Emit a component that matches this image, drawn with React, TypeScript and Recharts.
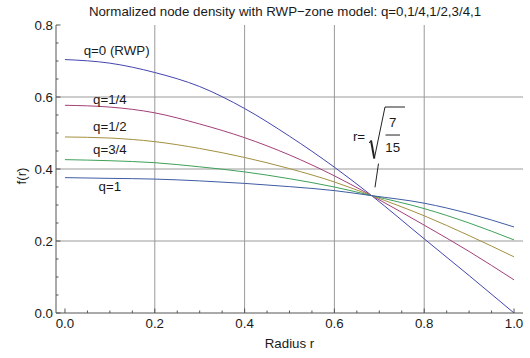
import React from 'react';
import { LineChart, Line, XAxis, YAxis, ReferenceLine, ReferenceDot } from 'recharts';

// radius samples (0.683 ~ sqrt(7/15), the common crossing)
const radius = [0, 0.1, 0.2, 0.3, 0.4, 0.5, 0.6, 0.683, 0.8, 0.9, 1.0];
const fQ0 = [0.704, 0.694, 0.668, 0.629, 0.568, 0.491, 0.405, 0.326, 0.206, 0.104, 0.0];
const fQ14 = [0.577, 0.572, 0.556, 0.525, 0.487, 0.439, 0.381, 0.326, 0.244, 0.171, 0.092];
const fQ12 = [0.489, 0.486, 0.476, 0.457, 0.432, 0.401, 0.364, 0.326, 0.27, 0.215, 0.156];
const fQ34 = [0.426, 0.423, 0.4175, 0.406, 0.392, 0.373, 0.35, 0.326, 0.29, 0.25, 0.203];
const fQ1 = [0.376, 0.374, 0.372, 0.367, 0.36, 0.351, 0.34, 0.326, 0.305, 0.276, 0.239];

const seriesKeys = ['q0', 'q14', 'q12', 'q34', 'q1'];
const seriesLabels = ['q=0 (RWP)', 'q=1/4', 'q=1/2', 'q=3/4', 'q=1'];
const seriesColors = ['#4545b0', '#a33f79', '#a39040', '#3fa05a', '#3f5ca3'];
// label anchor positions (data coords)
const labelX = [0.115, 0.1, 0.1, 0.1, 0.1];
const labelY = [0.731, 0.5925, 0.52, 0.4536, 0.3517];

const xTicks = [0, 0.05, 0.1, 0.15, 0.2, 0.25, 0.3, 0.35, 0.4, 0.45, 0.5, 0.55, 0.6, 0.65, 0.7, 0.75, 0.8, 0.85, 0.9, 0.95, 1.0];
const yTicks = [0, 0.05, 0.1, 0.15, 0.2, 0.25, 0.3, 0.35, 0.4, 0.45, 0.5, 0.55, 0.6, 0.65, 0.7, 0.75, 0.8];
const xGrid = [0.2, 0.4, 0.6, 0.8];
const yGrid = [0.2, 0.4, 0.6];

const title = 'Normalized node density with RWP\u2212zone model: q=0,1/4,1/2,3/4,1';
const xLabel = 'Radius r';
const yLabel = 'f(r)';

const data = radius.map((r, i) => ({
  r,
  q0: fQ0[i],
  q14: fQ14[i],
  q12: fQ12[i],
  q34: fQ34[i],
  q1: fQ1[i],
}));

const W = 530;
const H = 358;
const TOP = 25;
const BOTTOM = 313;
const LEFT = 56;
const RIGHT = 523;
const FONT = '"Liberation Sans", Arial, Helvetica, sans-serif';
const FS = 13.3;
const FRAME = '#555';
const GRID = '#9a9a9a';
const TXT = '#1a1a1a';

const isMajor = (v: number) => Math.abs(v * 5 - Math.round(v * 5)) < 1e-6;

const BottomTick = (p: any) => {
  const v = p.payload.value;
  const m = isMajor(v);
  return (
    <g>
      <line x1={p.x} x2={p.x} y1={BOTTOM} y2={BOTTOM - (m ? 4.5 : 2.5)} stroke={FRAME} />
      {m && (
        <text x={p.x} y={328} textAnchor="middle" fontFamily={FONT} fontSize={FS} fill={TXT}>
          {v.toFixed(1)}
        </text>
      )}
    </g>
  );
};
const TopTick = (p: any) => {
  const v = p.payload.value;
  const m = isMajor(v);
  return <line x1={p.x} x2={p.x} y1={TOP} y2={TOP + (m ? 4.5 : 2.5)} stroke={FRAME} />;
};
const LeftTick = (p: any) => {
  const v = p.payload.value;
  const m = isMajor(v);
  return (
    <g>
      <line x1={LEFT} x2={LEFT + (m ? 4.5 : 2.5)} y1={p.y} y2={p.y} stroke={FRAME} />
      {m && (
        <text x={53} y={p.y + 4.7} textAnchor="end" fontFamily={FONT} fontSize={FS} fill={TXT}>
          {v.toFixed(1)}
        </text>
      )}
    </g>
  );
};
const RightTick = (p: any) => {
  const v = p.payload.value;
  const m = isMajor(v);
  return <line x1={RIGHT} x2={RIGHT - (m ? 4.5 : 2.5)} y1={p.y} y2={p.y} stroke={FRAME} />;
};

const textShape = (txt: string, anchor: string = 'middle') => (p: any) => (
  <text x={p.cx} y={p.cy + 4.7} textAnchor={anchor} fontFamily={FONT} fontSize={FS} fill={TXT}>
    {txt}
  </text>
);

export default function App() {
  return (
    <div style={{ position: 'absolute', left: 0, top: 0, width: W, height: H, background: '#fff' }}>
      <LineChart
        width={W}
        height={H}
        data={data}
        margin={{ top: TOP, right: W - RIGHT, bottom: 0, left: 0 }}
      >
        <XAxis
          xAxisId="b"
          dataKey="r"
          type="number"
          domain={[-0.02, 1.02]}
          ticks={xTicks}
          interval={0}
          height={H - BOTTOM}
          axisLine={{ stroke: FRAME }}
          tickLine={false}
          tick={BottomTick}
          label={{
            content: () => (
              <g>
                <text x={(LEFT + RIGHT) / 2} y={348} textAnchor="middle" fontFamily={FONT} fontSize={FS} fill={TXT}>
                  {xLabel}
                </text>
                <text x={285} y={15.5} textAnchor="middle" fontFamily={FONT} fontSize={FS} fill={TXT}>
                  {title}
                </text>
              </g>
            ),
          }}
        />
        <XAxis
          xAxisId="t"
          orientation="top"
          dataKey="r"
          type="number"
          domain={[-0.02, 1.02]}
          ticks={xTicks}
          interval={0}
          height={0}
          axisLine={{ stroke: FRAME }}
          tickLine={false}
          tick={TopTick}
        />
        <YAxis
          yAxisId="l"
          type="number"
          domain={[0, 0.8]}
          ticks={yTicks}
          interval={0}
          width={LEFT}
          axisLine={{ stroke: FRAME }}
          tickLine={false}
          tick={LeftTick}
          label={{
            content: () => (
              <text
                x={0}
                y={0}
                transform={`translate(26, 176) rotate(-90)`}
                textAnchor="middle"
                fontFamily={FONT}
                fontSize={FS}
                fill={TXT}
              >
                {yLabel}
              </text>
            ),
          }}
        />
        <YAxis
          yAxisId="r"
          orientation="right"
          type="number"
          domain={[0, 0.8]}
          ticks={yTicks}
          interval={0}
          width={0}
          axisLine={{ stroke: FRAME }}
          tickLine={false}
          tick={RightTick}
        />
        {xGrid.map((g) => (
          <ReferenceLine key={'vx' + g} xAxisId="b" yAxisId="l" x={g} stroke={GRID} strokeWidth={1} />
        ))}
        {yGrid.map((g) => (
          <ReferenceLine key={'hy' + g} xAxisId="b" yAxisId="l" y={g} stroke={GRID} strokeWidth={1} />
        ))}
        {seriesKeys.map((k, i) => (
          <Line
            key={k}
            xAxisId="b"
            yAxisId="l"
            dataKey={k}
            type="monotone"
            stroke={seriesColors[i]}
            strokeWidth={1}
            dot={false}
            activeDot={false}
            isAnimationActive={false}
          />
        ))}
        {seriesKeys.map((k, i) => (
          <ReferenceDot
            key={'lab' + k}
            xAxisId="b"
            yAxisId="l"
            x={labelX[i]}
            y={labelY[i]}
            r={0}
            shape={textShape(seriesLabels[i])}
          />
        ))}
        {/* sqrt(7/15) annotation */}
        <ReferenceLine xAxisId="b" yAxisId="l" segment={[{ x: 0.6904, y: 0.349 }, { x: 0.6982, y: 0.415 }]} stroke="#222" strokeWidth={1} />
        <ReferenceLine xAxisId="b" yAxisId="l" segment={[{ x: 0.6774, y: 0.4722 }, { x: 0.6815, y: 0.4792 }]} stroke="#222" strokeWidth={1} />
        <ReferenceLine xAxisId="b" yAxisId="l" segment={[{ x: 0.6815, y: 0.4792 }, { x: 0.6889, y: 0.4292 }]} stroke="#222" strokeWidth={2} />
        <ReferenceLine xAxisId="b" yAxisId="l" segment={[{ x: 0.6889, y: 0.4292 }, { x: 0.7127, y: 0.5722 }]} stroke="#222" strokeWidth={1} />
        <ReferenceLine xAxisId="b" yAxisId="l" segment={[{ x: 0.7127, y: 0.5722 }, { x: 0.7572, y: 0.5722 }]} stroke="#222" strokeWidth={1} />
        <ReferenceLine xAxisId="b" yAxisId="l" segment={[{ x: 0.7138, y: 0.4944 }, { x: 0.7461, y: 0.4944 }]} stroke="#222" strokeWidth={1} />
        <ReferenceDot xAxisId="b" yAxisId="l" x={0.6548} y={0.4917} r={0} shape={textShape('r=')} />
        <ReferenceDot xAxisId="b" yAxisId="l" x={0.7298} y={0.5306} r={0} shape={textShape('7')} />
        <ReferenceDot xAxisId="b" yAxisId="l" x={0.7298} y={0.4611} r={0} shape={textShape('15')} />
      </LineChart>
    </div>
  );
}
